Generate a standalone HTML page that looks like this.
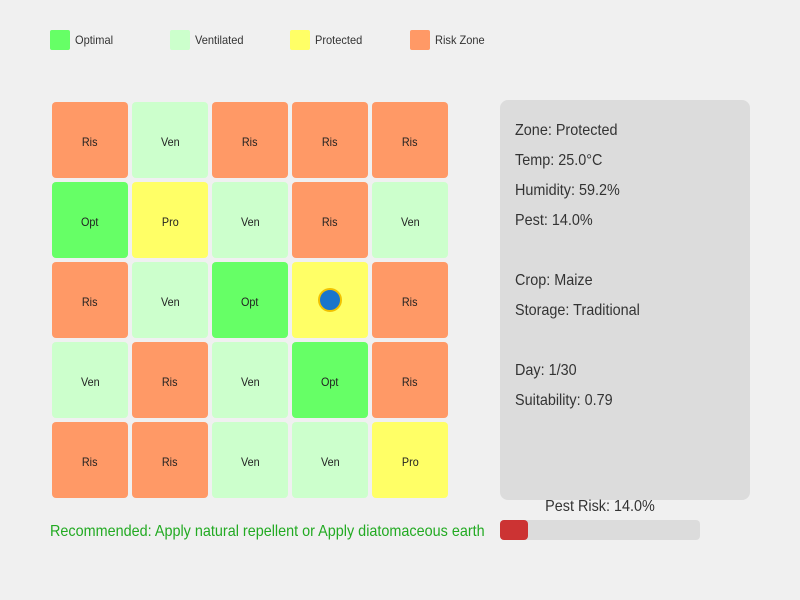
<!DOCTYPE html>
<html><head><meta charset="utf-8"><style>
body{margin:0;width:800px;height:600px;background:#f0f0f0;font-family:"Liberation Sans",sans-serif;position:relative;overflow:hidden}
.a{position:absolute}
.cell{position:absolute;width:76px;height:76px;border-radius:4px;display:flex;align-items:center;justify-content:center;font-size:12px;color:#222}
.cell span{display:inline-block;transform:scaleX(0.9);padding-top:3px}
.leg{position:absolute;width:20px;height:20px;border-radius:2px;top:30px}
.lt{position:absolute;top:33px;font-size:12px;color:#333;transform:scaleX(0.92);transform-origin:left center}
.pl{position:absolute;left:515px;font-size:16px;color:#333;transform:scaleX(0.9);transform-origin:left center}
</style></head><body>
<div id="legend"></div>
<div id="grid"></div>
<div class="a" style="left:500px;top:100px;width:250px;height:400px;background:#dcdcdc;border-radius:8px"></div>
<div id="panel"></div>
<div class="a" style="left:500px;top:498px;width:200px;text-align:center;font-size:16px;color:#333;transform:scaleX(0.9)">Pest Risk: 14.0%</div>
<div class="a" style="left:500px;top:520px;width:200px;height:20px;background:#dcdcdc;border-radius:4px"></div>
<div class="a" id="riskfill" style="left:500px;top:520px;height:20px;background:#cc3333;border-radius:4px"></div>
<div class="a" style="left:50px;top:523px;font-size:16px;color:#22aa22;transform:scaleX(0.9);transform-origin:left center;white-space:nowrap">Recommended: Apply natural repellent or Apply diatomaceous earth</div>
<script>
const zoneNames=["Optimal","Ventilated","Protected","Risk Zone"];
const zoneColors=["#66ff66","#ccffcc","#ffff66","#ff9966"];
const gridRows=[
["Ris","Ven","Ris","Ris","Ris"],
["Opt","Pro","Ven","Ris","Ven"],
["Ris","Ven","Opt","Pro","Ris"],
["Ven","Ris","Ven","Opt","Ris"],
["Ris","Ris","Ven","Ven","Pro"]];
const markerPos=[2,3];
const panelLines=["Zone: Protected","Temp: 25.0°C","Humidity: 59.2%","Pest: 14.0%","","Crop: Maize","Storage: Traditional","","Day: 1/30","Suitability: 0.79"];
const pestRisk=14.0;
const cmap={Opt:"#66ff66",Ven:"#ccffcc",Pro:"#ffff66",Ris:"#ff9966"};
const lg=document.getElementById('legend');
zoneNames.forEach((n,i)=>{
 const s=document.createElement('div');s.className='leg';s.style.left=(50+120*i)+'px';s.style.background=zoneColors[i];
 
 
 lg.appendChild(s);
 const t=document.createElement('div');t.className='lt';t.style.left=(75+120*i)+'px';t.textContent=n;
 
 
 lg.appendChild(t);
});
const g=document.getElementById('grid');
gridRows.forEach((row,r)=>row.forEach((c,k)=>{
 const d=document.createElement('div');d.className='cell';
 d.style.left=(52+80*k)+'px';d.style.top=(102+80*r)+'px';d.style.background=cmap[c];
 if(!(r===markerPos[0]&&k===markerPos[1])){const sp=document.createElement('span');sp.textContent=c;d.appendChild(sp);}
 
 
 g.appendChild(d);
}));
const m=document.createElement('div');
m.className='a';
m.style.cssText='width:20px;height:20px;border-radius:50%;background:#1a75cc;border:2px solid #f2c200;left:'+(52+80*markerPos[1]+38-12)+'px;top:'+(102+80*markerPos[0]+38-12)+'px';


g.appendChild(m);
const p=document.getElementById('panel');
panelLines.forEach((l,i)=>{
 const d=document.createElement('div');d.className='pl';d.style.top=(122+30*i)+'px';d.textContent=l;
 
 
 p.appendChild(d);
});
document.getElementById('riskfill').style.width=(200*pestRisk/100)+'px';
</script>
</body></html>
